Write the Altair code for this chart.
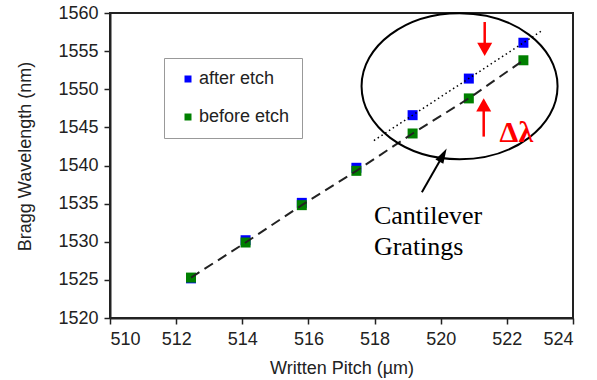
import altair as alt
import pandas as pd

# ---- data ----
pitch = [512.45, 514.1, 515.8, 517.45, 519.15, 520.85, 522.5]
after_etch = [1525.2, 1530.2, 1535.1, 1539.7, 1546.6, 1551.4, 1556.1]
before_etch = [1525.3, 1529.9, 1534.8, 1539.3, 1544.2, 1548.8, 1553.8]
series_names = ["after etch", "before etch"]
series_colors = ["#0000ff", "#008000"]

x_ticks = [510, 512, 514, 516, 518, 520, 522, 524]
y_ticks = [1520, 1525, 1530, 1535, 1540, 1545, 1550, 1555, 1560]
fit_extent = [517.98, 523.09]

# annotation anchors (data coordinates)
ellipse_x = [520.57]
ellipse_y = [1550.4]
black_arrow_tail = [519.43, 1536.5]
black_arrow_head = [520.07, 1541.36]
red_down_x = [521.33]
red_down_y = [1558.82, 1555.23]
red_up_x = [521.30]
red_up_y = [1543.79, 1547.95]
delta_pos = [521.78, 1543.1]
text_lines = ["Cantilever", "Gratings"]
text_x = [517.98, 517.98]
text_y = [1532.3, 1528.3]

FONT = "Liberation Sans"
SERIF = "Liberation Serif"

rows = []
for name, vals in zip(series_names, [after_etch, before_etch]):
    for p, v in zip(pitch, vals):
        rows.append({"pitch": p, "wl": v, "series": name})
pts = pd.DataFrame(rows)
after_df = pts[pts.series == "after etch"]
before_df = pts[pts.series == "before etch"]

xs = alt.Scale(domain=[510, 524], nice=False, zero=False)
ys = alt.Scale(domain=[1520, 1560], nice=False, zero=False)

xax = alt.Axis(values=x_ticks, format="d", labelOverlap=False, title="Written Pitch (µm)", grid=False,
               titleX=231.5, titleY=55, titleBaseline="alphabetic")
yax = alt.Axis(values=y_ticks, format="d", labelOverlap=False, title="Bragg Wavelength (nm)", grid=False,
               titleX=-80, titleY=143, titleBaseline="alphabetic", titleAngle=-90)


def X(f):
    return alt.X(f, type="quantitative", scale=xs, axis=xax)


def Y(f):
    return alt.Y(f, type="quantitative", scale=ys, axis=yax)


points = alt.Chart(pts).mark_square(size=100, opacity=1, strokeWidth=0).encode(
    x=X("pitch"),
    y=Y("wl"),
    color=alt.Color("series:N",
                    scale=alt.Scale(domain=series_names, range=series_colors),
                    legend=alt.Legend(title=None, orient="none", legendX=54, legendY=45,
                                      padding=12, strokeColor="#999", fillColor="white",
                                      symbolType="square", symbolSize=49, symbolStrokeWidth=0,
                                      symbolOffset=3, labelOffset=2, rowPadding=20,
                                      labelFont=FONT, labelFontSize=18, labelColor="#222")),
)

dashed = alt.Chart(before_df).mark_line(color="#222", strokeWidth=2, strokeDash=[10, 6]).encode(
    x=X("pitch"), y=Y("wl"))

dotted = alt.Chart(after_df).transform_filter("datum.pitch > 518").transform_regression(
    "pitch", "wl", extent=fit_extent
).mark_line(color="black", strokeWidth=1.5, strokeDash=[1.5, 3]).encode(
    x=X("pitch"), y=Y("wl"))

ell = alt.Chart(pd.DataFrame({"x": ellipse_x, "y": ellipse_y})).mark_point(
    shape="M -1 0 A 1 0.745 0 1 1 1 0 A 1 0.745 0 1 1 -1 0 Z",
    size=196 * 196, filled=False, stroke="black", strokeWidth=2, opacity=1
).encode(x=X("x"), y=Y("y"))

arrow_df = pd.DataFrame({"x": [black_arrow_tail[0]], "y": [black_arrow_tail[1]],
                         "x2": [black_arrow_head[0]], "y2": [black_arrow_head[1]]})
black_shaft = alt.Chart(arrow_df).mark_rule(color="black", strokeWidth=2).encode(
    x=X("x"), y=Y("y"), x2="x2:Q", y2="y2:Q")
black_head = alt.Chart(arrow_df).mark_point(
    shape="M 0 -1 L 0.6 1 L -0.6 1 Z", size=225, angle=29, filled=True,
    color="black", opacity=1, strokeWidth=0
).encode(x=X("x2"), y=Y("y2"))

red_df = pd.DataFrame({"x": [red_down_x[0], red_up_x[0]],
                       "y": [red_down_y[0], red_up_y[0]],
                       "y2": [red_down_y[1], red_up_y[1]],
                       "dir": ["down", "up"]})
red_shaft = alt.Chart(red_df).mark_rule(color="#ff0000", strokeWidth=2.5).encode(
    x=X("x"), y=Y("y"), y2="y2:Q")
red_down_head = alt.Chart(red_df[red_df.dir == "down"]).mark_point(
    shape="M 0 0.87 L 1 -0.87 L -1 -0.87 Z", size=225, filled=True,
    color="#ff0000", opacity=1, strokeWidth=0
).encode(x=X("x"), y=Y("y2"))
red_up_head = alt.Chart(red_df[red_df.dir == "up"]).mark_point(
    shape="M 0 -0.87 L 1 0.87 L -1 0.87 Z", size=225, filled=True,
    color="#ff0000", opacity=1, strokeWidth=0
).encode(x=X("x"), y=Y("y2"))

delta = alt.Chart(pd.DataFrame({"x": [delta_pos[0]], "y": [delta_pos[1]], "t": ["Δλ"]})).mark_text(
    font=SERIF, fontSize=30, fontWeight="bold", color="#ff0000", align="left", baseline="alphabetic"
).encode(x=X("x"), y=Y("y"), text="t:N")

cant = alt.Chart(pd.DataFrame({"x": text_x, "y": text_y, "t": text_lines})).mark_text(
    font=SERIF, fontSize=26, color="black", align="left", baseline="alphabetic"
).encode(x=X("x"), y=Y("y"), text="t:N")

chart = alt.layer(
    points, dashed, dotted, ell, black_shaft, black_head,
    red_shaft, red_down_head, red_up_head, delta, cant
).properties(
    width=463, height=305,
    autosize=alt.AutoSizeParams(type="none"),
    padding={"left": 110, "top": 13, "right": 24, "bottom": 62},
    background="white",
).configure_view(
    stroke="#222", strokeWidth=2
).configure_axis(
    domainColor="#222", domainWidth=2, tickColor="#222", tickWidth=1.5, tickSize=6,
    labelFont=FONT, labelFontSize=18, labelColor="#222", labelPadding=6,
    titleFont=FONT, titleFontSize=18, titleColor="#222", titleFontWeight="normal",
)

chart.save("out.html", embed_options={"renderer": "svg", "actions": False})
